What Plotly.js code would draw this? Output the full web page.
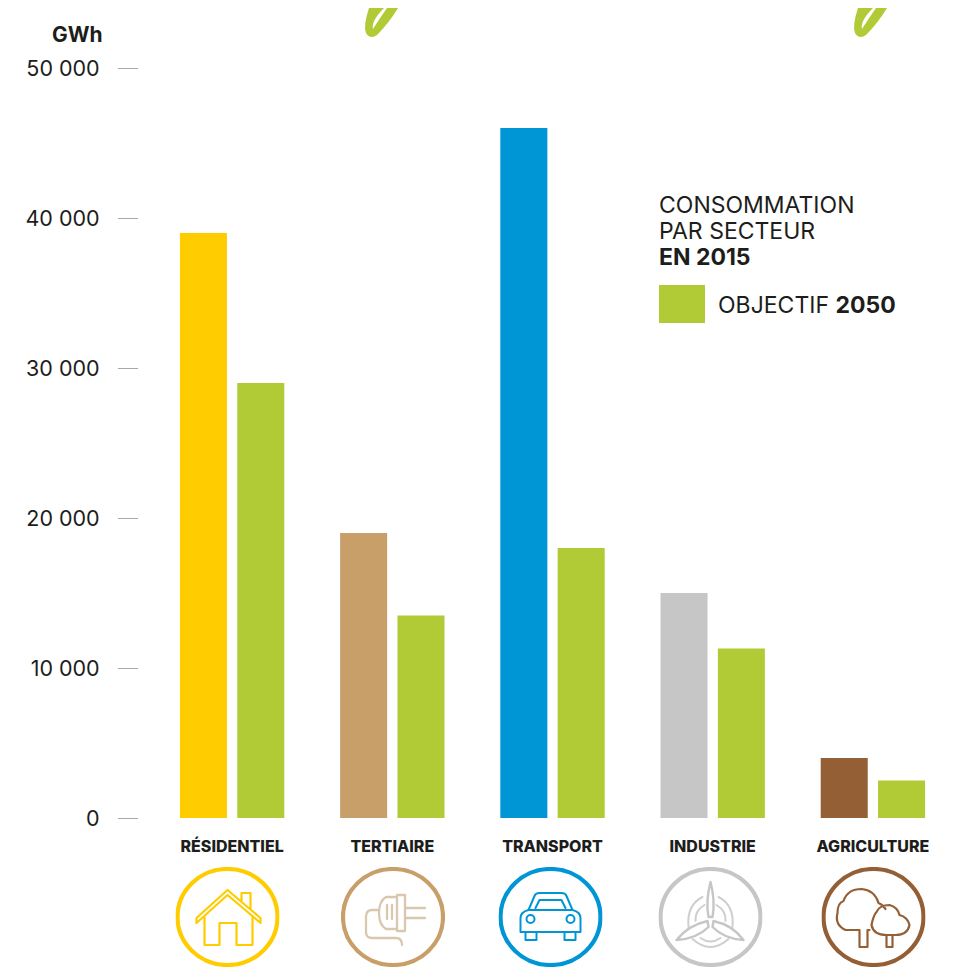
<!DOCTYPE html>
<html><head><meta charset="utf-8">
<script src="https://cdn.plot.ly/plotly-3.0.1.min.js"></script>
<style>html,body{margin:0;padding:0;background:#fff}</style></head>
<body><div id="chart" style="width:953px;height:968px"></div>
<script>
const sectors = ['RÉSIDENTIEL','TERTIAIRE','TRANSPORT','INDUSTRIE','AGRICULTURE'];
const consumption2015 = [39000,19000,46000,15000,4000];
const objective2050 = [29000,13500,18000,11300,2500];
const sectorColors = ['#ffcc00','#c89f68','#0096d6','#c6c6c6','#955f35'];
const green = '#b0cb35';
const yTicks = [0,10000,20000,30000,40000,50000];
const yTickLabels = ['0','10 000','20 000','30 000','40 000','50 000'];
const ink = '#1d1d1b';
const font = 'Inter, "Open Sans", sans-serif';

const W=953,H=968,L=139,R=0,T=68,B=150;
const px=x=>(x-L)/(W-L-R), py=y=>1-(y-T)/(H-T-B);
const svg=(w,h,body)=>'data:image/svg+xml;charset=utf-8,'+encodeURIComponent(
 `<svg xmlns="http://www.w3.org/2000/svg" width="${w}" height="${h}" viewBox="0 0 ${w} ${h}" fill="none" stroke-linejoin="round" stroke-linecap="round">${body}</svg>`);
const ring=c=>`<ellipse cx="52" cy="50" rx="50" ry="48" stroke="${c}" stroke-width="4.2"/>`;
const icons=[
 {cx:227.5,c:'#ffcc00',b:`<path d="M21 51 L52 23 L85 51 V56 L52 28 L21 56 Z M29 50 V78 H44 V56 H61 V78 H77 V50 M66 34 V26 H75 V42" stroke="#ffcc00" stroke-width="2.2"/>`},
 {cx:393,c:'#c89f68',b:`<path d="M56 30 H45 Q38 34 38 46 Q38 58 45 62 H56 Z M56 28 H64 V64 H56 M64 41 H84 M64 51 H84 M46 38 V52 M51 38 V52 M38 43 H31 Q25 43 25 50 V65 Q25 71 31 71 H55 Q61 71 61 78" stroke="#d8c8ae" stroke-width="2.3"/>`},
 {cx:550.5,c:'#0096d6',b:`<path d="M30 43 L36 29 Q37 26 41 26 H63 Q67 26 68 29 L74 43 Q82 45 82 51 V65 H22 V51 Q22 45 30 43 Z M30 43 H74 M37 41 L41 33 H63 L67 41 M27 65 V73 H38 V65 M66 65 V73 H77 V65" stroke="#0096d6" stroke-width="2"/><circle cx="32" cy="52" r="4" stroke="#0096d6" stroke-width="2"/><circle cx="72" cy="52" r="4" stroke="#0096d6" stroke-width="2"/>`},
 {cx:710.5,c:'#c6c6c6',b:`<path d="M52 15 Q57 34 54 50 H50 Q47 34 52 15 Z M55 54 Q74 58 85 73 Q66 72 54 60 Z M49 54 Q30 58 18 73 Q38 72 50 60 Z" stroke="#c6c6c6" stroke-width="2.4"/><path d="M44 30 Q28 38 30 60 M60 30 Q76 38 74 60 M46 38 Q36 44 37 54 M58 38 Q68 44 67 54 M34 72 Q52 88 70 72 M42 71 Q52 78 62 71" stroke="#cfcfcf" stroke-width="2"/>`},
 {cx:873.5,c:'#955f35',b:`<path d="M38 63 H24 Q13 58 16 46 Q16 36 22 34 Q26 22 40 22 Q53 23 57 36 Q62 38 64 42 M38 63 V80 H46 V63 H48 M65 68 Q52 68 50 58 Q52 48 55 45 Q58 38 68 38 Q76 40 78 48 Q86 50 88 58 Q86 68 74 68 Z M65 68 V80 H71 V68" stroke="#955f35" stroke-width="2.2"/>`}
];
const leaf=`<path d="M6 0 Q0 18 3 25 Q7 32 14 27 Q26 15 35 0 H24 Q15 13 10 21 Q8 13 21 0 Z" fill="${green}"/>`;
const images=icons.map(i=>({source:svg(104,100,ring(i.c)+i.b),xref:'paper',yref:'paper',x:px(i.cx-52),y:py(867),sizex:104/(W-L-R),sizey:100/(H-T-B),sizing:'stretch',xanchor:'left',yanchor:'top',layer:'above'}));
[363,852].forEach(x=>images.push({source:svg(36,32,leaf),xref:'paper',yref:'paper',x:px(x),y:py(8),sizex:36/(W-L-R),sizey:32/(H-T-B),sizing:'stretch',xanchor:'left',yanchor:'top',layer:'above'}));

const txt=(text,x,y,size)=>({text,xref:'paper',yref:'paper',x:px(x),y:py(y),xanchor:'left',yanchor:'middle',showarrow:false,align:'left',font:{family:font,size:size||23,color:ink}});
const traces=[
 {type:'bar',name:'Consommation 2015',x:sectors,y:consumption2015,marker:{color:sectorColors,line:{width:0}},hoverinfo:'x+y'},
 {type:'bar',name:'Objectif 2050',x:sectors,y:objective2050,marker:{color:green,line:{width:0}},hoverinfo:'x+y'}
];
const layout={
 width:W,height:H,margin:{l:L,r:R,t:T,b:B,pad:0},paper_bgcolor:'#fff',plot_bgcolor:'#fff',showlegend:false,
 barmode:'group',bargap:0.284,bargroupgap:0.18,
 xaxis:{type:'category',range:[-0.58125,4.5],showgrid:false,zeroline:false,showline:false,ticks:'',tickfont:{family:font,size:16,color:ink,weight:800},tickangle:0,automargin:false,ticklabelstandoff:17,fixedrange:true},
 yaxis:{range:[0,50000],tickmode:'array',tickvals:yTicks,ticktext:yTickLabels,showgrid:false,zeroline:false,showline:false,ticks:'outside',ticklen:20,tickwidth:1.2,tickcolor:'#a8a8a8',tickfont:{family:font,size:21.5,color:ink},ticklabelstandoff:14,automargin:false,fixedrange:true},
 images,
 shapes:[{type:'rect',xref:'paper',yref:'paper',x0:px(659),x1:px(705),y0:py(285),y1:py(323),fillcolor:green,line:{width:0}}],
 annotations:[
  txt('<b>GWh</b>',50,34,21),
  txt('CONSOMMATION',657,205),txt('PAR SECTEUR',657,231),txt('<b>EN 2015</b>',657,257),
  txt('OBJECTIF <b>2050</b>',716,305)
 ]
};
Plotly.newPlot('chart',traces,layout,{displayModeBar:false,staticPlot:false});
</script></body></html>
